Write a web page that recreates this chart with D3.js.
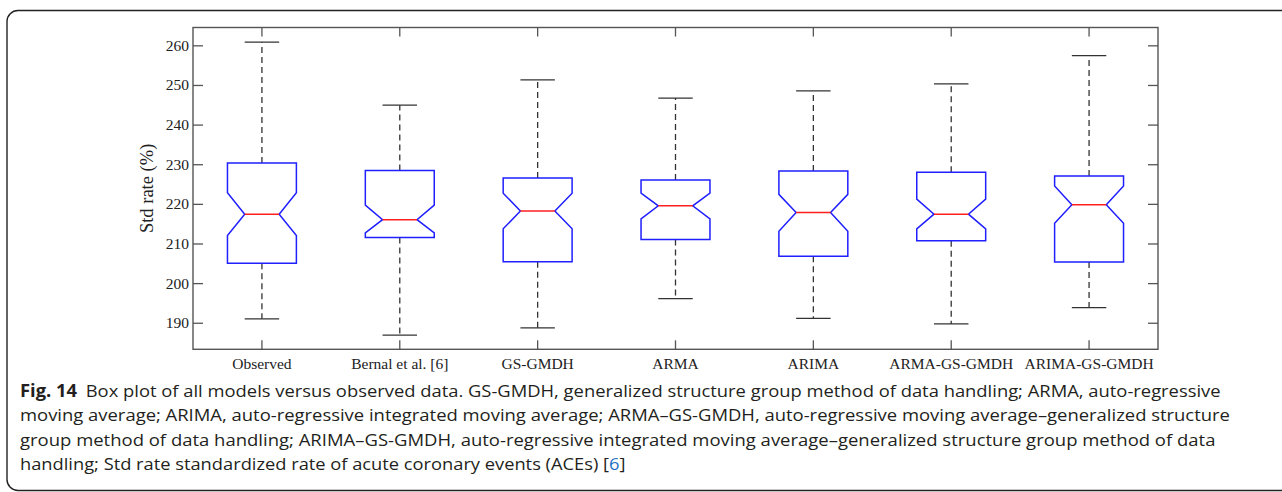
<!DOCTYPE html>
<html>
<head>
<meta charset="utf-8">
<script src="https://cdn.jsdelivr.net/npm/d3@7"></script>
<style>
  body { margin: 0; background: #fff; }
  svg { display: block; }
</style>
</head>
<body>
<div id="chart"></div>
<script>
// box plot values (Std rate, %)
const models = ['Observed', 'Bernal et al. [6]', 'GS-GMDH', 'ARMA', 'ARIMA', 'ARMA-GS-GMDH', 'ARIMA-GS-GMDH'];
const upper   = [260.8, 244.9, 251.3, 246.7, 248.5, 250.3, 257.4];
const q3      = [230.3, 228.4, 226.5, 226.0, 228.3, 228.0, 227.0];
const notchHi = [222.8, 219.7, 222.7, 222.7, 222.4, 221.2, 224.5];
const median  = [217.4, 216.0, 218.2, 219.5, 217.8, 217.4, 219.8];
const notchLo = [212.0, 212.7, 213.7, 216.2, 213.1, 213.7, 215.1];
const q1      = [205.0, 211.5, 205.4, 211.0, 206.8, 210.7, 205.3];
const lower   = [191.0, 186.9, 188.7, 196.1, 191.1, 189.7, 193.8];
const yTicks  = [190, 200, 210, 220, 230, 240, 250, 260];

const W = 1282, H = 492;
const plot = {'left':193, 'right':1158, 'top':27.5, 'bottom':349.3};

var svg = d3.select('#chart').append('svg')
  .attr('width', W).attr('height', H);

// outer figure border (rounded, runs off right edge)
svg.append('rect')
  .attr('x', 7).attr('y', 10.5)
  .attr('width', 1320).attr('height', 480)
  .attr('rx', 11).attr('ry', 11)
  .attr('fill', 'none')
  .attr('stroke', '#222')
  .attr('stroke-width', 1.4);

var x = d3.scaleBand().domain(models).range([plot.left, plot.right]);
var y = d3.scaleLinear().domain([183.3, 264.5]).range([plot.bottom, plot.top]);

const serif = '"Liberation Serif", "Times New Roman", serif';
const axisColor = '#555';

function styleAxis(g){
  g.select('.domain').remove();
  g.selectAll('.tick line').attr('stroke', axisColor).attr('stroke-width', 1.3);
  g.selectAll('.tick text')
   .attr('fill', '#222')
   .style('font-family', serif)
   .style('font-size', '15.5px');
}

// left axis, ticks pointing in
svg.append('g')
   .attr('transform', `translate(${plot.left},0)`)
   .call(d3.axisLeft(y).tickValues(yTicks).tickSize(-10).tickPadding(4))
   .call(styleAxis);

// right axis, ticks only
svg.append('g')
   .attr('transform', `translate(${plot.right},0)`)
   .call(d3.axisRight(y).tickValues(yTicks).tickSize(-10).tickFormat(''))
   .call(styleAxis);

// bottom axis with model names
svg.append('g')
   .attr('transform', `translate(0,${plot.bottom})`)
   .call(d3.axisBottom(x).tickSize(-9).tickPadding(8.4))
   .call(styleAxis);

// top axis, ticks only
svg.append('g')
   .attr('transform', `translate(0,${plot.top})`)
   .call(d3.axisTop(x).tickSize(-9).tickFormat(''))
   .call(styleAxis);

// frame
svg.append('rect')
  .attr('x', plot.left).attr('y', plot.top)
  .attr('width', plot.right - plot.left)
  .attr('height', plot.bottom - plot.top)
  .attr('fill', 'none')
  .attr('stroke', axisColor)
  .attr('stroke-width', 1.4);

// y label
svg.append('text')
  .attr('transform', `translate(153,${(plot.top + plot.bottom)/2}) rotate(-90)`)
  .attr('text-anchor', 'middle')
  .style('font-family', serif)
  .style('font-size', '18.5px')
  .attr('fill', '#222')
  .text('Std rate (%)');

// boxes
const boxW = x.bandwidth() * 0.5;
const capW = boxW * 0.5;
const inset = boxW * 0.25;

var boxes = svg.append('g').selectAll('g')
  .data(models)
  .enter().append('g');

boxes.each(function(d, i){
  var g = d3.select(this);
  var cx = x(d) + x.bandwidth()/2;
  var L = cx - boxW/2, R = cx + boxW/2;

  // dashed whiskers
  [[q3[i], upper[i]], [q1[i], lower[i]]].forEach(function(p){
    g.append('line')
     .attr('x1', cx).attr('x2', cx)
     .attr('y1', y(p[0])).attr('y2', y(p[1]))
     .attr('stroke', '#333')
     .attr('stroke-width', 1.3)
     .attr('stroke-dasharray', '6,4');
  });
  // caps
  [upper[i], lower[i]].forEach(function(v){
    g.append('line')
     .attr('x1', cx - capW/2).attr('x2', cx + capW/2)
     .attr('y1', y(v)).attr('y2', y(v))
     .attr('stroke', '#333')
     .attr('stroke-width', 1.3);
  });

  // notched box
  var pts = [
    [L, y(q3[i])], [L, y(notchHi[i])], [L + inset, y(median[i])], [L, y(notchLo[i])], [L, y(q1[i])],
    [R, y(q1[i])], [R, y(notchLo[i])], [R - inset, y(median[i])], [R, y(notchHi[i])], [R, y(q3[i])]
  ];
  g.append('path')
   .attr('d', d3.line()(pts) + 'Z')
   .attr('fill', 'none')
   .attr('stroke', '#1f1fff')
   .attr('stroke-width', 1.5);

  g.append('line')
   .attr('x1', L + inset).attr('x2', R - inset)
   .attr('y1', y(median[i])).attr('y2', y(median[i]))
   .attr('stroke', '#ff1f1f')
   .attr('stroke-width', 1.5);
});

// caption
const capFont = '"Open Sans", "Noto Sans", sans-serif';
const capColor = '#231f20';
const capLines = [
  {'y':397, 'x0':20, 'x1':1222},
  {'y':421.5, 'x0':20, 'x1':1231},
  {'y':446, 'x0':20, 'x1':1216},
  {'y':470.5, 'x0':20, 'x1':626}
];

function fitLine(t, x0, x1){
  var w = t.node().getBBox().width;
  t.attr('transform', `translate(${x0},0) scale(${(x1 - x0)/w},1)`);
}

var c1 = svg.append('text')
  .attr('y', capLines[0].y)
  .style('font-family', capFont).style('font-size', '17px')
  .attr('fill', capColor);
c1.append('tspan').style('font-weight', 'bold').text('Fig. 14');
c1.append('tspan').attr('dx', 8).text('Box plot of all models versus observed data. GS-GMDH, generalized structure group method of data handling; ARMA, auto-regressive');
fitLine(c1, capLines[0].x0, capLines[0].x1);

var c2 = svg.append('text')
  .attr('y', capLines[1].y)
  .style('font-family', capFont).style('font-size', '17px')
  .attr('fill', capColor)
  .text('moving average; ARIMA, auto-regressive integrated moving average; ARMA\u2013GS-GMDH, auto-regressive moving average\u2013generalized structure');
fitLine(c2, capLines[1].x0, capLines[1].x1);

var c3 = svg.append('text')
  .attr('y', capLines[2].y)
  .style('font-family', capFont).style('font-size', '17px')
  .attr('fill', capColor)
  .text('group method of data handling; ARIMA\u2013GS-GMDH, auto-regressive integrated moving average\u2013generalized structure group method of data');
fitLine(c3, capLines[2].x0, capLines[2].x1);

var c4 = svg.append('text')
  .attr('y', capLines[3].y)
  .style('font-family', capFont).style('font-size', '17px')
  .attr('fill', capColor);
c4.append('tspan').text('handling; Std rate standardized rate of acute coronary events (ACEs) [');
c4.append('tspan').attr('fill', '#1b6ec2').text('6');
c4.append('tspan').text(']');
fitLine(c4, capLines[3].x0, capLines[3].x1);
</script>
</body>
</html>
